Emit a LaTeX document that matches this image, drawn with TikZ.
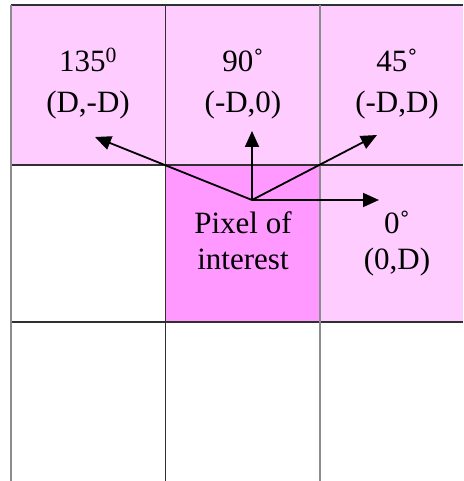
\documentclass[tikz,border=0pt]{standalone}
\usepackage{fontspec}
\setmainfont{Liberation Serif}
\usetikzlibrary{arrows.meta}
\definecolor{lightpink}{HTML}{FFCCFF}
\definecolor{darkpink}{HTML}{FF99FF}
\definecolor{gridgray}{HTML}{8C8C8C}
\definecolor{griddark}{HTML}{303030}
\tikzset{
  lbl/.style={inner sep=0pt, anchor=base, font=\fontsize{31}{31}\selectfont},
  dirarrow/.style={line width=1.8pt, -{Triangle[length=16pt,width=14pt]}}
}
\begin{document}
\begin{tikzpicture}[x=1pt,y=-1pt]
\useasboundingbox (0,0) rectangle (463,481);
% fills
\fill[lightpink] (11,5) rectangle (463,165);
\fill[darkpink] (165,165) rectangle (320,322);
\fill[lightpink] (320,165) rectangle (463,322);
% grid lines
\draw[griddark, line width=1.5pt] (11,5) -- (463,5);
\draw[griddark, line width=2.2pt] (11,165) -- (463,165);
\draw[griddark, line width=2.2pt] (11,322) -- (463,322);
\draw[gridgray, line width=1.5pt] (11,5) -- (11,481);
\draw[griddark, line width=1pt] (165,5) -- (165,481);
\draw[gridgray, line width=1.5pt] (320,5) -- (320,481);
% labels
\node[lbl] (t135) at (88,72) {135\textsuperscript{0}};
\node[lbl] (c135) at (88,113) {(D,-D)};
\node[lbl] (t90) at (243,72) {90˚};
\node[lbl] (c90) at (243,113) {(-D,0)};
\node[lbl] (t45) at (397,72) {45˚};
\node[lbl] (c45) at (397,113) {(-D,D)};
\node[lbl] (p1) at (243,233) {Pixel of};
\node[lbl] (p2) at (243,269) {interest};
\node[lbl] (t0) at (397,233) {0˚};
\node[lbl] (c0) at (397,269) {(0,D)};
% arrows
\coordinate (o) at (252,200);
\coordinate (a135) at (95,137);
\coordinate (a90) at (252,131);
\coordinate (a45) at (377,135);
\coordinate (a0) at (379,200);
\draw[dirarrow] (o) -- (a135);
\draw[dirarrow] (o) -- (a90);
\draw[dirarrow] (o) -- (a45);
\draw[dirarrow] (o) -- (a0);
\end{tikzpicture}
\end{document}
